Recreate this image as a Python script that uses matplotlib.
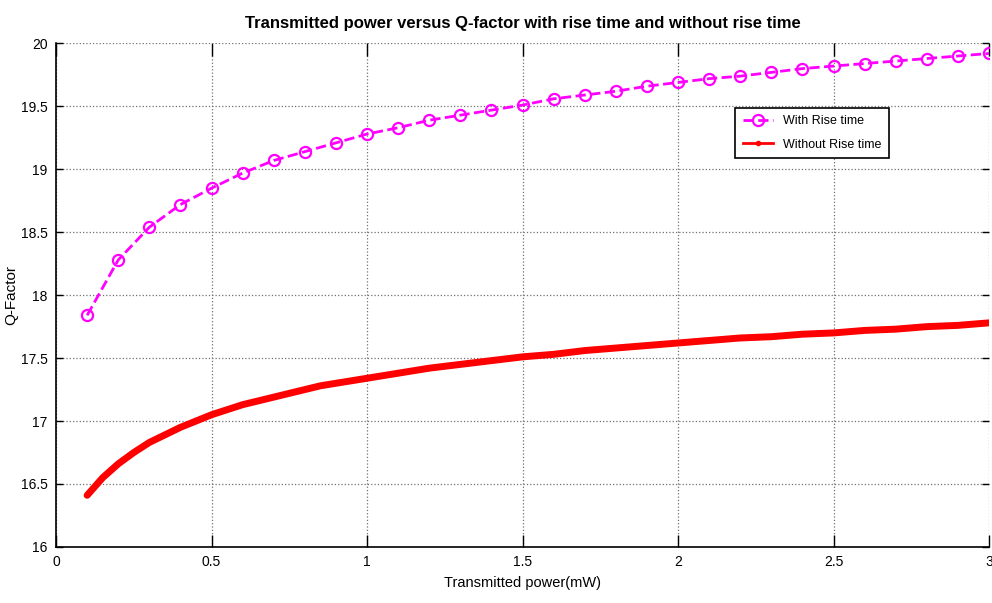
import matplotlib
matplotlib.use('Agg')
from matplotlib import pyplot as plt

# values
power_rise = [0.1, 0.2, 0.3, 0.4, 0.5, 0.6, 0.7, 0.8, 0.9, 1.0,
              1.1, 1.2, 1.3, 1.4, 1.5, 1.6, 1.7, 1.8, 1.9, 2.0,
              2.1, 2.2, 2.3, 2.4, 2.5, 2.6, 2.7, 2.8, 2.9, 3.0]
q_rise = [17.84, 18.28, 18.54, 18.72, 18.85, 18.97, 19.07, 19.14, 19.21, 19.28,
          19.33, 19.39, 19.43, 19.47, 19.51, 19.56, 19.59, 19.62, 19.66, 19.69,
          19.72, 19.74, 19.77, 19.80, 19.82, 19.84, 19.86, 19.88, 19.90, 19.92]

power_norise = [0.10, 0.15, 0.20, 0.25, 0.30, 0.35, 0.40, 0.45, 0.50, 0.55,
                0.60, 0.65, 0.70, 0.75, 0.80, 0.85, 0.90, 0.95, 1.00, 1.1,
                1.2, 1.3, 1.4, 1.5, 1.6, 1.7, 1.8, 1.9, 2.0, 2.1,
                2.2, 2.3, 2.4, 2.5, 2.6, 2.7, 2.8, 2.9, 3.0]
q_norise = [16.41, 16.55, 16.66, 16.75, 16.83, 16.89, 16.95, 17.00, 17.05, 17.09,
            17.13, 17.16, 17.19, 17.22, 17.25, 17.28, 17.30, 17.32, 17.34, 17.38,
            17.42, 17.45, 17.48, 17.51, 17.53, 17.56, 17.58, 17.60, 17.62, 17.64,
            17.66, 17.67, 17.69, 17.70, 17.72, 17.73, 17.75, 17.76, 17.78]

xticks = [0, 0.5, 1, 1.5, 2, 2.5, 3]
xticklabels = ['0', '0.5', '1', '1.5', '2', '2.5', '3']
yticks = [16, 16.5, 17, 17.5, 18, 18.5, 19, 19.5, 20]
yticklabels = ['16', '16.5', '17', '17.5', '18', '18.5', '19', '19.5', '20']

narrow = ['Liberation Sans Narrow', 'Liberation Sans', 'DejaVu Sans']

fig = plt.figure(figsize=(9.92, 6.03), dpi=100)
ax = fig.add_axes([0.0565, 0.093, 0.9405, 0.835])

ax.plot(power_rise, q_rise, color='magenta', linestyle='--', linewidth=2,
        marker='o', markersize=8, markerfacecolor='none', markeredgewidth=1.6,
        label='With Rise time')
ax.plot(power_norise, q_norise, color='red', linewidth=5, solid_capstyle='round')
ax.plot([], [], color='red', linewidth=2, marker='.', markersize=6,
        label='Without Rise time')

ax.set_xlim(0, 3)
ax.set_ylim(16, 20)
ax.set_xticks(xticks)
ax.set_xticklabels(xticklabels, family=narrow, fontsize=10)
ax.set_yticks(yticks)
ax.set_yticklabels(yticklabels, family=narrow, fontsize=10)
ax.tick_params(direction='in', length=5, width=1, top=True, right=True, pad=6)
ax.tick_params(axis='x', length=9)

ax.grid(True, color='#707070', linestyle=':', linewidth=0.9)
ax.spines['top'].set_visible(False)
ax.spines['right'].set_visible(False)
ax.spines['left'].set_linewidth(1.2)
ax.spines['bottom'].set_linewidth(1.2)

ax.set_title('Transmitted power versus Q-factor with rise time and without rise time',
             family=narrow, fontsize=12, fontweight='bold', pad=11)
ax.set_xlabel('Transmitted power(mW)', family=narrow, fontsize=10.5, labelpad=5)
ax.set_ylabel('Q-Factor', family=['Liberation Sans', 'DejaVu Sans'], fontsize=11, labelpad=2)

leg = ax.legend(loc='upper left', bbox_to_anchor=(0.728, 0.872), fancybox=False,
                framealpha=1, edgecolor='black', borderaxespad=0,
                prop={'family': narrow, 'size': 9}, handlelength=2.4,
                labelspacing=0.9, borderpad=0.6)
leg.get_frame().set_linewidth(1.2)

fig.savefig('out.png', dpi=100)
